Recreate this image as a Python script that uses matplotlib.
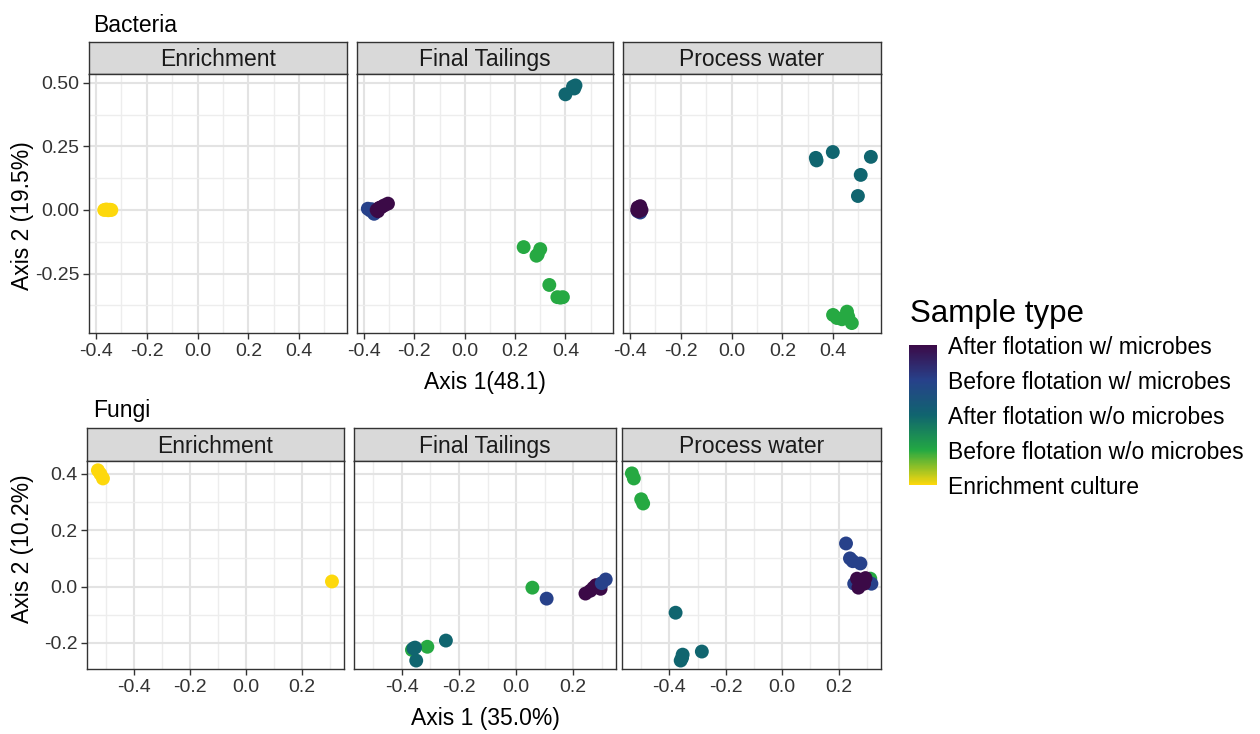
import matplotlib
matplotlib.use("Agg")
import matplotlib.pyplot as plt
from matplotlib.colors import LinearSegmentedColormap, Normalize
from matplotlib.cm import ScalarMappable

plt.rcParams['font.family'] = ['Liberation Sans', 'DejaVu Sans']

# sample types, coded 1..5 for the colour scale
sample_types = ["After flotation w/ microbes", "Before flotation w/ microbes",
                "After flotation w/o microbes", "Before flotation w/o microbes",
                "Enrichment culture"]
facets = ["Enrichment", "Final Tailings", "Process water"]

# Bacteria ordination (Axis 1 / Axis 2)
bac_enr_x = [-0.368, -0.36, -0.352, -0.346, -0.34]
bac_enr_y = [0.0, 0.002, -0.001, 0.001, 0.0]
bac_enr_t = [5, 5, 5, 5, 5]

bac_ft_x = [-0.385, -0.375, -0.36, -0.365, -0.37, -0.35, -0.34, -0.33, -0.32, -0.305, -0.345,
            0.43, 0.44, 0.435, 0.40,
            0.234, 0.30, 0.285, 0.29, 0.336, 0.368, 0.39, 0.38]
bac_ft_y = [0.005, -0.002, -0.015, -0.005, 0.003, 0.0, 0.008, 0.012, 0.018, 0.025, -0.005,
            0.485, 0.49, 0.478, 0.455,
            -0.146, -0.154, -0.18, -0.175, -0.295, -0.343, -0.343, -0.345]
bac_ft_t = [2, 2, 2, 2, 2, 1, 1, 1, 1, 1, 1,
            3, 3, 3, 3,
            4, 4, 4, 4, 4, 4, 4, 4]

bac_pw_x = [-0.36, -0.37, -0.37, -0.36, -0.365, -0.355, -0.372,
            0.332, 0.335, 0.399, 0.549, 0.509, 0.498,
            0.40, 0.415, 0.435, 0.455, 0.46, 0.474]
bac_pw_y = [-0.01, -0.005, 0.01, 0.015, -0.005, 0.0, 0.0,
            0.205, 0.195, 0.228, 0.209, 0.138, 0.055,
            -0.413, -0.425, -0.43, -0.40, -0.42, -0.445]
bac_pw_t = [2, 2, 1, 1, 1, 1, 1,
            3, 3, 3, 3, 3, 3,
            4, 4, 4, 4, 4, 4]

# Fungi ordination
fun_enr_x = [-0.529, -0.52, -0.511, 0.307]
fun_enr_y = [0.413, 0.40, 0.384, 0.018]
fun_enr_t = [5, 5, 5, 5]

fun_ft_x = [-0.311, -0.365, 0.057,
            -0.246, -0.354, -0.36, -0.35,
            0.243, 0.26, 0.271, 0.289, 0.296, 0.28,
            0.107, 0.314, 0.30]
fun_ft_y = [-0.214, -0.225, -0.004,
            -0.192, -0.217, -0.22, -0.263,
            -0.025, -0.015, -0.004, 0.0, -0.008, 0.005,
            -0.043, 0.025, 0.012]
fun_ft_t = [4, 4, 4,
            3, 3, 3, 3,
            1, 1, 1, 1, 1, 1,
            2, 2, 2]

fun_pw_x = [-0.533, -0.526, -0.50, -0.493, 0.312,
            -0.378, -0.285, -0.353, -0.36, -0.355,
            0.226, 0.24, 0.25, 0.277, 0.255, 0.316,
            0.265, 0.277, 0.27, 0.29, 0.295, 0.28]
fun_pw_y = [0.402, 0.384, 0.31, 0.295, 0.028,
            -0.093, -0.231, -0.242, -0.263, -0.253,
            0.153, 0.10, 0.09, 0.082, 0.01, 0.01,
            0.028, 0.01, -0.004, 0.01, 0.03, 0.02]
fun_pw_t = [4, 4, 4, 4, 4,
            3, 3, 3, 3, 3,
            2, 2, 2, 2, 2, 2,
            1, 1, 1, 1, 1, 1]

W, H = 1260, 734
fig = plt.figure(figsize=(W / 100, H / 100), dpi=100)


def box(l, t, r, b):
    return [l / W, 1 - b / H, (r - l) / W, (b - t) / H]


cmap = LinearSegmentedColormap.from_list(
    "sample", ["#3B0A47", "#27418A", "#10646F", "#23A843", "#FDD80C"])
norm = Normalize(1, 5)
dark = "#333333"

rows = [
    dict(title="Bacteria", title_y=32, strip_top=42, top=74, bottom=333,
         cols=[(89, 347), (357, 613), (623, 881)],
         data=[(bac_enr_x, bac_enr_y, bac_enr_t), (bac_ft_x, bac_ft_y, bac_ft_t),
               (bac_pw_x, bac_pw_y, bac_pw_t)],
         xlim=(-0.428, 0.589), ylim=(-0.484, 0.535),
         xmaj=[-0.4, -0.2, 0.0, 0.2, 0.4], xmin=[-0.3, -0.1, 0.1, 0.3, 0.5],
         ymaj=[-0.25, 0.0, 0.25, 0.5], ymin=[-0.375, -0.125, 0.125, 0.375],
         yfmt="{:.2f}", xlabel="Axis 1(48.1)", xlabel_y=389,
         ylabel="Axis 2 (19.5%)", ylabel_y=216),
    dict(title="Fungi", title_y=417, strip_top=428, top=461, bottom=669,
         cols=[(87, 344), (354, 616), (622, 881)],
         data=[(fun_enr_x, fun_enr_y, fun_enr_t), (fun_ft_x, fun_ft_y, fun_ft_t),
               (fun_pw_x, fun_pw_y, fun_pw_t)],
         xlim=(-0.568, 0.35), ylim=(-0.293, 0.446),
         xmaj=[-0.4, -0.2, 0.0, 0.2], xmin=[-0.5, -0.3, -0.1, 0.1, 0.3],
         ymaj=[-0.2, 0.0, 0.2, 0.4], ymin=[-0.1, 0.1, 0.3],
         yfmt="{:.1f}", xlabel="Axis 1 (35.0%)", xlabel_y=725,
         ylabel="Axis 2 (10.2%)", ylabel_y=549),
]

for row in rows:
    for i, ((l, r), (xs, ys, ts)) in enumerate(zip(row["cols"], row["data"])):
        # facet strip
        sax = fig.add_axes(box(l, row["strip_top"], r, row["top"]))
        sax.set_facecolor("#D9D9D9")
        sax.set_xticks([])
        sax.set_yticks([])
        for sp in sax.spines.values():
            sp.set_color(dark)
            sp.set_linewidth(1.0)
        sax.text(0.5, 0.45, facets[i], ha="center", va="center",
                 fontsize=16.5, color="#1A1A1A", transform=sax.transAxes)

        ax = fig.add_axes(box(l, row["top"], r, row["bottom"]))
        ax.scatter(xs, ys, c=ts, cmap=cmap, norm=norm, s=100,
                   linewidths=0, zorder=3)
        ax.set_xlim(*row["xlim"])
        ax.set_ylim(*row["ylim"])
        ax.set_xticks(row["xmaj"])
        ax.set_xticks(row["xmin"], minor=True)
        ax.set_yticks(row["ymaj"])
        ax.set_yticks(row["ymin"], minor=True)
        ax.set_xticklabels(["{:.1f}".format(v) for v in row["xmaj"]])
        ax.set_yticklabels([row["yfmt"].format(v) for v in row["ymaj"]])
        ax.grid(which="major", color="#E3E3E3", lw=1.5)
        ax.grid(which="minor", color="#EDEDED", lw=1.0)
        ax.set_axisbelow(True)
        ax.tick_params(which="major", length=4, width=1, color=dark,
                       labelsize=14, labelcolor="#333333", pad=3)
        ax.tick_params(which="minor", length=0)
        if i > 0:
            # fixed scales: only the first column carries the y axis
            ax.tick_params(axis="y", which="major", left=False, labelleft=False)
        for sp in ax.spines.values():
            sp.set_color(dark)
            sp.set_linewidth(1.0)

    fig.text(93 / W, 1 - row["title_y"] / H, row["title"], fontsize=16.5,
             ha="left", va="baseline", color="black")
    fig.text(485 / W, 1 - row["xlabel_y"] / H, row["xlabel"], fontsize=16.5,
             ha="center", va="baseline", color="black")
    fig.text(23 / W, 1 - row["ylabel_y"] / H, row["ylabel"], fontsize=16.5,
             ha="center", va="center", rotation=90, color="black")

# colour scale legend
cax = fig.add_axes(box(909, 345, 937, 485))
cbar = fig.colorbar(ScalarMappable(norm=norm, cmap=cmap), cax=cax)
cbar.outline.set_visible(False)
cax.invert_yaxis()
cbar.set_ticks([1, 2, 3, 4, 5])
cbar.set_ticklabels(sample_types)
cax.set_yticks([2, 3, 4], minor=True)
cax.tick_params(which="major", length=0, labelsize=16.5, pad=8, labelcolor="black")
cax.tick_params(which="minor", direction="in", color="white", length=5,
                width=1, left=True, right=True)
fig.text(910 / W, 1 - 322 / H, "Sample type", fontsize=22.5,
         ha="left", va="baseline", color="black")

fig.savefig("out.png", dpi=100)
